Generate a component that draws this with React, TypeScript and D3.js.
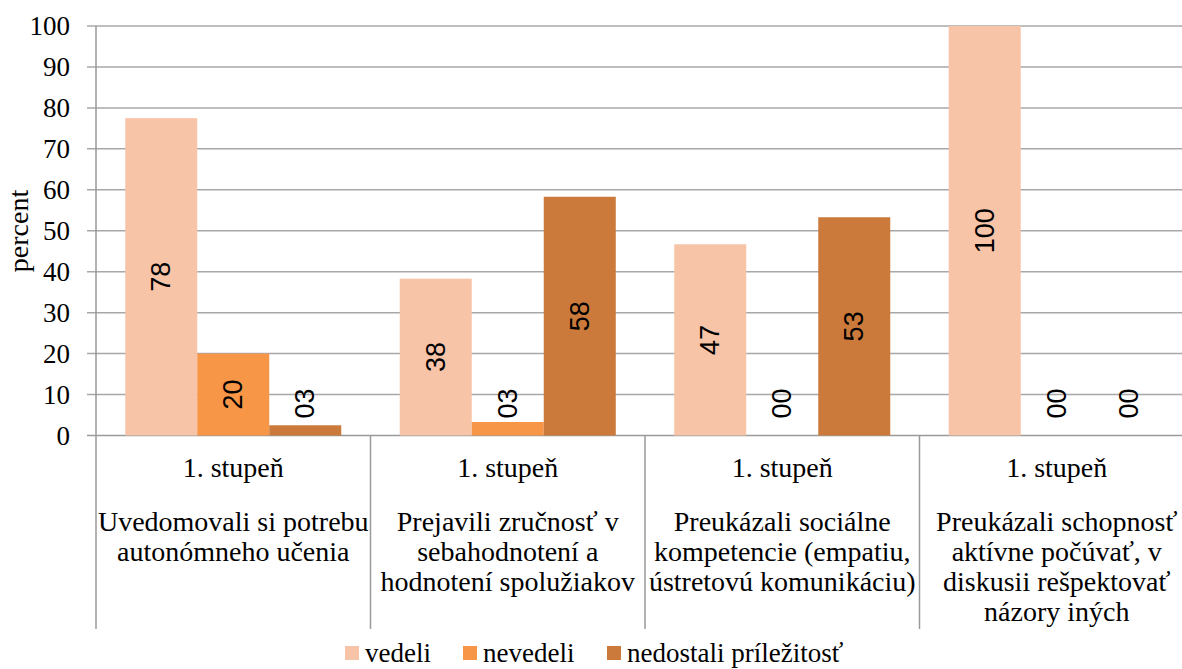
import * as d3 from "d3";

const categories = [
  ["Uvedomovali si potrebu", "autonómneho učenia"],
  ["Prejavili zručnosť v", "sebahodnotení a", "hodnotení spolužiakov"],
  ["Preukázali sociálne", "kompetencie (empatiu,", "ústretovú komunikáciu)"],
  ["Preukázali schopnosť", "aktívne počúvať, v", "diskusii rešpektovať", "názory iných"],
];
const level = "1. stupeň";
const seriesNames = ["vedeli", "nevedeli", "nedostali príležitosť"];
const vedeli = [77.5, 38.3, 46.7, 100];
const nevedeli = [20, 3.3, 0, 0];
const nedostali = [2.5, 58.3, 53.3, 0];
const yTicks = [0, 10, 20, 30, 40, 50, 60, 70, 80, 90, 100];
const colors = ["#F8C4A8", "#F79646", "#CB7A3B"];

const W = 1182;
const H = 669;
const serif = "'Liberation Serif', 'Times New Roman', serif";
const sans = "'Liberation Sans', Arial, sans-serif";

export default function App() {
  const series = [vedeli, nevedeli, nedostali];
  const keys = categories.map((_, i) => String(i));

  const y = d3.scaleLinear().domain([0, 100]).range([435.5, 26]);
  const x0 = d3.scaleBand().domain(keys).range([96, 96 + 4 * 274.5]).padding(0);
  const x1 = d3
    .scaleBand()
    .domain(seriesNames)
    .range([0, x0.bandwidth()])
    .paddingInner(0)
    .paddingOuter(0.406);

  const fmt = (v: number) => d3.format("02d")(Math.round(v));
  const legendX = [345, 463, 607];

  return (
    <svg
      width={W}
      height={H}
      style={{ position: "absolute", left: 0, top: 0, background: "#fff" }}
    >
      {/* gridlines */}
      {yTicks.map((t) => (
        <g key={t}>
          <line
            x1={87}
            x2={W}
            y1={y(t)}
            y2={y(t)}
            stroke={t === 0 ? "#9a9a9a" : "#a8a8a8"}
            strokeWidth={1.5}
          />
          <text
            x={70}
            y={y(t)}
            textAnchor="end"
            dominantBaseline="central"
            fontFamily={serif}
            fontSize={27}
            fill="#000"
          >
            {t}
          </text>
        </g>
      ))}
      <line x1={96} x2={96} y1={y(100)} y2={629} stroke="#9a9a9a" strokeWidth={1.5} />
      {keys.map((k) => (
        <line
          key={"sep" + k}
          x1={(x0(k) as number) + x0.bandwidth()}
          x2={(x0(k) as number) + x0.bandwidth()}
          y1={y(0)}
          y2={629}
          stroke="#9a9a9a"
          strokeWidth={1.5}
        />
      ))}

      {/* bars */}
      {series.map((vals, si) =>
        vals.map((v, ci) => {
          const bx = (x0(keys[ci]) as number) + (x1(seriesNames[si]) as number);
          return (
            <rect
              key={si + "-" + ci}
              x={bx}
              y={y(v)}
              width={x1.bandwidth()}
              height={y(0) - y(v)}
              fill={colors[si]}
            />
          );
        })
      )}

      {/* data labels */}
      {series.map((vals, si) =>
        vals.map((v, ci) => {
          const cx =
            (x0(keys[ci]) as number) +
            (x1(seriesNames[si]) as number) +
            x1.bandwidth() / 2;
          const cy = Math.min((y(v) + y(0)) / 2, 403.5);
          return (
            <text
              key={"l" + si + "-" + ci}
              transform={`translate(${cx},${cy}) rotate(-90)`}
              textAnchor="middle"
              dominantBaseline="central"
              fontFamily={sans}
              fontSize={27}
              fill="#000"
            >
              {fmt(v)}
            </text>
          );
        })
      )}

      {/* category labels */}
      {categories.map((lines, ci) => {
        const cx = (x0(keys[ci]) as number) + x0.bandwidth() / 2;
        return (
          <g key={"c" + ci} fontFamily={serif} fontSize={28} textAnchor="middle" fill="#000">
            <text x={cx} y={477}>
              {level}
            </text>
            {lines.map((ln, li) => (
              <text key={li} x={cx} y={531 + li * 30}>
                {ln}
              </text>
            ))}
          </g>
        );
      })}

      {/* axis title */}
      <text
        transform={`translate(28,231) rotate(-90)`}
        textAnchor="middle"
        fontFamily={serif}
        fontSize={28}
        fill="#000"
      >
        percent
      </text>

      {/* legend */}
      {seriesNames.map((n, i) => (
        <g key={"lg" + n}>
          <rect x={legendX[i]} y={646} width={14} height={14} fill={colors[i]} />
          <text x={legendX[i] + 20} y={662} fontFamily={serif} fontSize={27} fill="#000">
            {n}
          </text>
        </g>
      ))}
    </svg>
  );
}
